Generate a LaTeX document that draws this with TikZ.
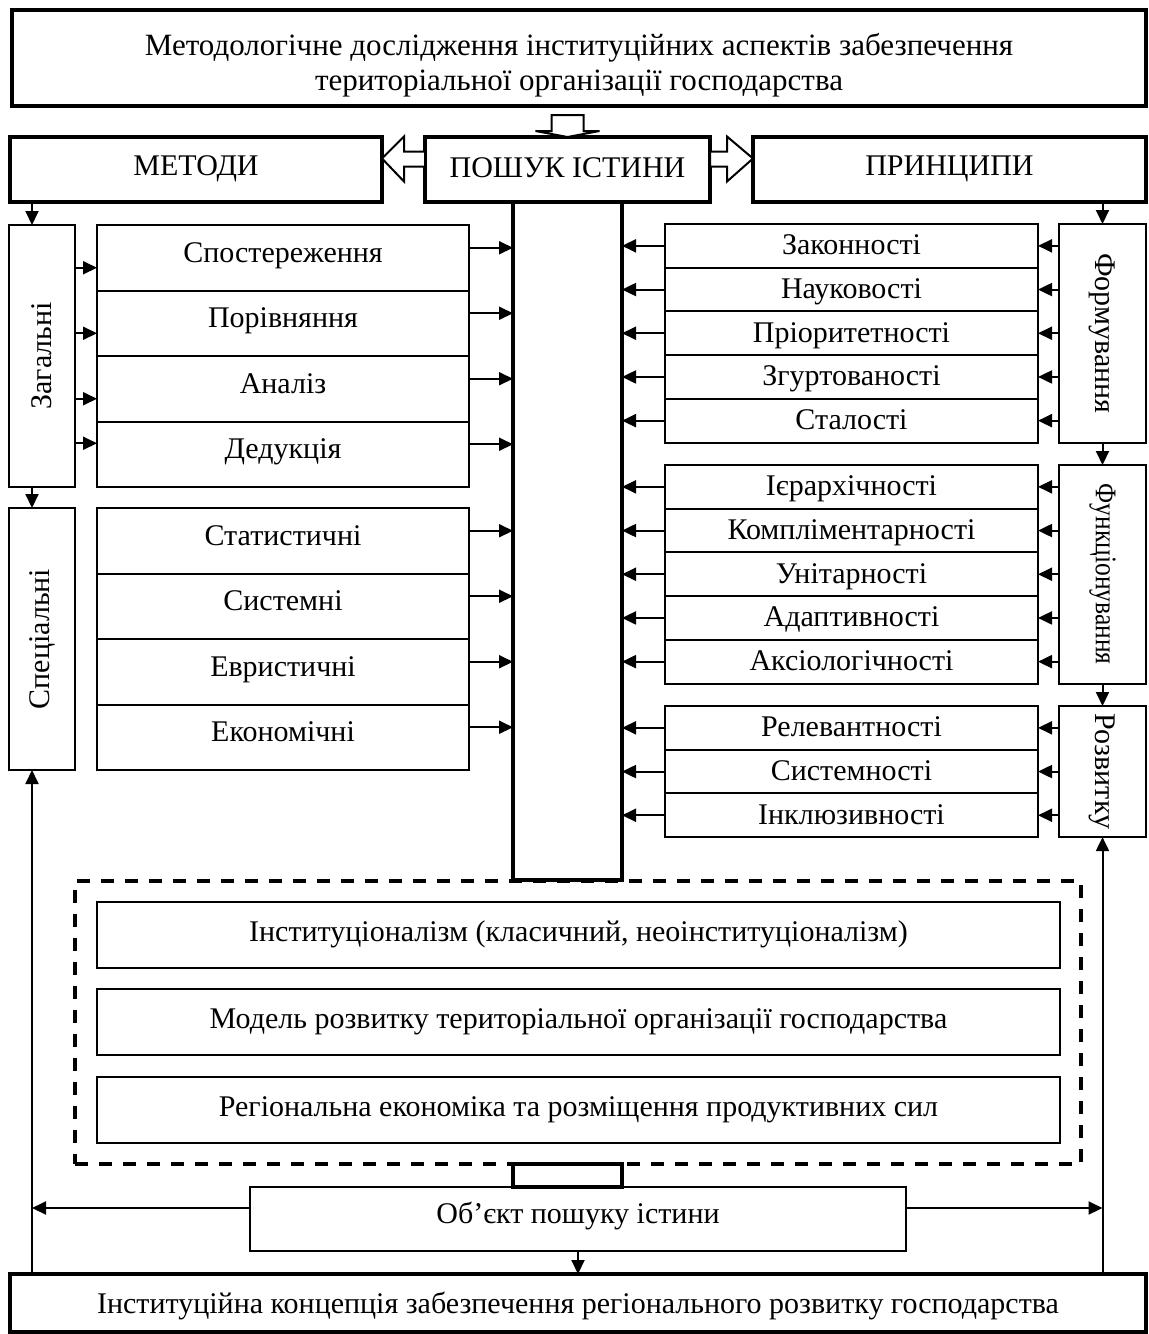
\documentclass[tikz,border=0pt]{standalone}
\usepackage{fontspec}
\setmainfont{Liberation Serif}
\usepackage{graphicx}
\usetikzlibrary{calc,positioning,arrows.meta}
\tikzset{
	box/.style={draw, line width=1pt, inner sep=0pt, outer sep=0pt, font=\fontsize{15}{17.5}\selectfont},
	oneline/.style={text height=11pt, text depth=5pt},
	bigbox/.style={box, oneline, line width=1.6pt},
	mbox/.style={box, minimum width=186pt, minimum height=32.75pt, text height=11pt, text depth=6.5pt},
	pbox/.style={box, minimum width=186.5pt, minimum height=21.85pt, text height=11pt, text depth=2pt},
	sbox/.style={box, minimum width=43.5pt},
	tbox/.style={box, oneline, minimum width=481.5pt, minimum height=33pt},
	arr/.style={line width=1pt, -{Triangle[length=7pt,width=6.5pt]}},
	hollow/.style={line width=1pt, fill=white, line join=miter}
}
\begin{document}
\begin{tikzpicture}[x=0.5pt, y=-0.5pt]
		\useasboundingbox (0,0) rectangle (1149,1334);
		\node[draw, line width=1.6pt, minimum width=567pt, minimum height=48pt] (meta) at (579,58) {};
		\node[align=center, font=\fontsize{15.5}{17.5}\selectfont, inner sep=0pt] (metatext) at ([yshift=-3.5pt]meta.center) {Методологічне дослідження інституційних аспектів забезпечення\\територіальної організації господарства};
		\node[bigbox, minimum width=186pt, minimum height=32.5pt] (metody) at (196,169.5) {МЕТОДИ};
		\node[bigbox, minimum width=142.5pt, minimum height=32.5pt, text depth=3.5pt] (poshuk) at (567.5,169.5) {ПОШУК ІСТИНИ};
		\node[bigbox, minimum width=196.5pt, minimum height=32.5pt] (pryntsypy) at (949.5,169.5) {ПРИНЦИПИ};
		\node[bigbox, minimum width=54.5pt, minimum height=339pt] (bar) at (567.5,541) {};
		\draw[hollow] ($(poshuk.north)+(-16,-22)$) -- ++(32,0) -- ++(0,16) -- ++(16,0) -- (poshuk.north) -- ++(-32,-6) -- ++(16,0) -- cycle;
		\draw[hollow] ($(metody.east)+(0,-11)$) -- ++(22,-22) -- ++(0,15) -- ++(21,0) -- ++(0,15) -- ++(-21,0) -- ++(0,15) -- cycle;
		\draw[hollow] ($(poshuk.east)+(0,-18)$) -- ++(17,0) -- ++(0,-15) -- ($(pryntsypy.west)+(0,-11)$) -- ++(-26,23) -- ++(0,-15) -- ++(-17,0) -- cycle;

		\node[sbox, minimum width=33pt, minimum height=131pt] (zag) at (42,356) {\rotatebox{90}{Загальні}};
		\node[sbox, minimum width=33pt, minimum height=131pt] (spets) at (42,639) {\rotatebox{90}{Спеціальні}};
		\node[mbox, anchor=north] (m1) at (283,225) {Спостереження};
		\node[mbox, below=0pt of m1] (m2) {Порівняння};
		\node[mbox, below=0pt of m2] (m3) {Аналіз};
		\node[mbox, below=0pt of m3] (m4) {Дедукція};
		\node[mbox, anchor=north] (m5) at (283,508) {Статистичні};
		\node[mbox, below=0pt of m5] (m6) {Системні};
		\node[mbox, below=0pt of m6] (m7) {Евристичні};
		\node[mbox, below=0pt of m7] (m8) {Економічні};

		\node[sbox, minimum height=109.25pt, anchor=north] (form) at (1102.5,224) {\rotatebox{-90}{Формування}};
		\node[sbox, minimum height=109.25pt, anchor=north] (funk) at (1102.5,465) {\rotatebox{-90}{\scalebox{0.85}[1]{Функціонування}}};
		\node[sbox, minimum height=65.55pt, anchor=north] (rozv) at (1102.5,706) {\rotatebox{-90}{Розвитку}};
		\node[pbox, anchor=north] (p1) at (851.5,224) {Законності};
		\node[pbox, below=0pt of p1] (p2) {Науковості};
		\node[pbox, below=0pt of p2] (p3) {Пріоритетності};
		\node[pbox, below=0pt of p3] (p4) {Згуртованості};
		\node[pbox, below=0pt of p4] (p5) {Сталості};
		\node[pbox, anchor=north] (p6) at (851.5,465) {Ієрархічності};
		\node[pbox, below=0pt of p6] (p7) {Комплiментарності};
		\node[pbox, below=0pt of p7] (p8) {Унітарності};
		\node[pbox, below=0pt of p8] (p9) {Адаптивності};
		\node[pbox, below=0pt of p9] (p10) {Аксіологічності};
		\node[pbox, anchor=north] (p11) at (851.5,706) {Релевантності};
		\node[pbox, below=0pt of p11] (p12) {Системності};
		\node[pbox, below=0pt of p12] (p13) {Інклюзивності};

		\node[draw, line width=1.6pt, dash pattern=on 6.5pt off 5.5pt, minimum width=503pt, minimum height=141.5pt] (teor) at (578,1022.5) {};
		\node[tbox] (t1) at (578.5,935) {Інституціоналізм (класичний, неоінституціоналізм)};
		\node[tbox] (t2) at (578.5,1022) {Модель розвитку територіальної організації господарства};
		\node[tbox] (t3) at (578.5,1110) {Регіональна економіка та розміщення продуктивних сил};
		\node[draw, line width=1.6pt, inner sep=0pt, outer sep=0pt, minimum width=54.5pt, minimum height=11.5pt] (link) at (567.5,1175.5) {};
		\node[box, oneline, minimum width=328pt, minimum height=32pt, text depth=7pt] (obj) at (578,1219) {Об’єкт пошуку істини};
		\node[bigbox, minimum width=568pt, minimum height=29pt, text depth=1pt] (konts) at (578,1303) {Інституційна концепція забезпечення регіонального розвитку господарства};

		\coordinate (lline) at ([xshift=-5pt]spets.south);
		\draw[arr] ([xshift=-5pt]zag.north |- metody.south) -- ([xshift=-5pt]zag.north);
		\draw[arr] ([xshift=-5pt]zag.south) -- ([xshift=-5pt]spets.north);
		\draw[arr] ([yshift=-5pt]zag.east |- m1.west) -- ([yshift=-5pt]m1.west);
		\draw[arr] ([yshift=-5pt]zag.east |- m2.west) -- ([yshift=-5pt]m2.west);
		\draw[arr] ([yshift=-5pt]zag.east |- m3.west) -- ([yshift=-5pt]m3.west);
		\draw[arr] ([yshift=5.5pt]zag.east |- m4.west) -- ([yshift=5.5pt]m4.west);
		\draw[arr] ([yshift=5pt]m1.east) -- ([yshift=5pt]bar.west |- m1.east);
		\draw[arr] ([yshift=5pt]m2.east) -- ([yshift=5pt]bar.west |- m2.east);
		\draw[arr] ([yshift=5pt]m3.east) -- ([yshift=5pt]bar.west |- m3.east);
		\draw[arr] ([yshift=5pt]m4.east) -- ([yshift=5pt]bar.west |- m4.east);
		\draw[arr] ([yshift=5pt]m5.east) -- ([yshift=5pt]bar.west |- m5.east);
		\draw[arr] ([yshift=5pt]m6.east) -- ([yshift=5pt]bar.west |- m6.east);
		\draw[arr] ([yshift=5pt]m7.east) -- ([yshift=5pt]bar.west |- m7.east);
		\draw[arr] ([yshift=5pt]m8.east) -- ([yshift=5pt]bar.west |- m8.east);

		\draw[arr] (form.north |- pryntsypy.south) -- (form.north);
		\draw[arr] (form.south) -- (funk.north);
		\draw[arr] (funk.south) -- (rozv.north);
		\draw[arr] (form.west |- p1.east) -- (p1.east);
		\draw[arr] (form.west |- p2.east) -- (p2.east);
		\draw[arr] (form.west |- p3.east) -- (p3.east);
		\draw[arr] (form.west |- p4.east) -- (p4.east);
		\draw[arr] (form.west |- p5.east) -- (p5.east);
		\draw[arr] (funk.west |- p6.east) -- (p6.east);
		\draw[arr] (funk.west |- p7.east) -- (p7.east);
		\draw[arr] (funk.west |- p8.east) -- (p8.east);
		\draw[arr] (funk.west |- p9.east) -- (p9.east);
		\draw[arr] (funk.west |- p10.east) -- (p10.east);
		\draw[arr] (rozv.west |- p11.east) -- (p11.east);
		\draw[arr] (rozv.west |- p12.east) -- (p12.east);
		\draw[arr] (rozv.west |- p13.east) -- (p13.east);
		\draw[arr] (p1.west) -- (bar.east |- p1.west);
		\draw[arr] (p2.west) -- (bar.east |- p2.west);
		\draw[arr] (p3.west) -- (bar.east |- p3.west);
		\draw[arr] (p4.west) -- (bar.east |- p4.west);
		\draw[arr] (p5.west) -- (bar.east |- p5.west);
		\draw[arr] (p6.west) -- (bar.east |- p6.west);
		\draw[arr] (p7.west) -- (bar.east |- p7.west);
		\draw[arr] (p8.west) -- (bar.east |- p8.west);
		\draw[arr] (p9.west) -- (bar.east |- p9.west);
		\draw[arr] (p10.west) -- (bar.east |- p10.west);
		\draw[arr] (p11.west) -- (bar.east |- p11.west);
		\draw[arr] (p12.west) -- (bar.east |- p12.west);
		\draw[arr] (p13.west) -- (bar.east |- p13.west);

		\draw[arr] (lline |- konts.north) -- (lline);
		\draw[arr] (rozv.south |- konts.north) -- (rozv.south);
		\draw[arr] ([yshift=5.5pt]obj.west) -- ([yshift=5.5pt]obj.west -| lline);
		\draw[arr] ([yshift=5.5pt]obj.east) -- ([yshift=5.5pt]obj.east -| rozv.south);
		\draw[arr] (obj.south) -- (obj.south |- konts.north);
\end{tikzpicture}
\end{document}
